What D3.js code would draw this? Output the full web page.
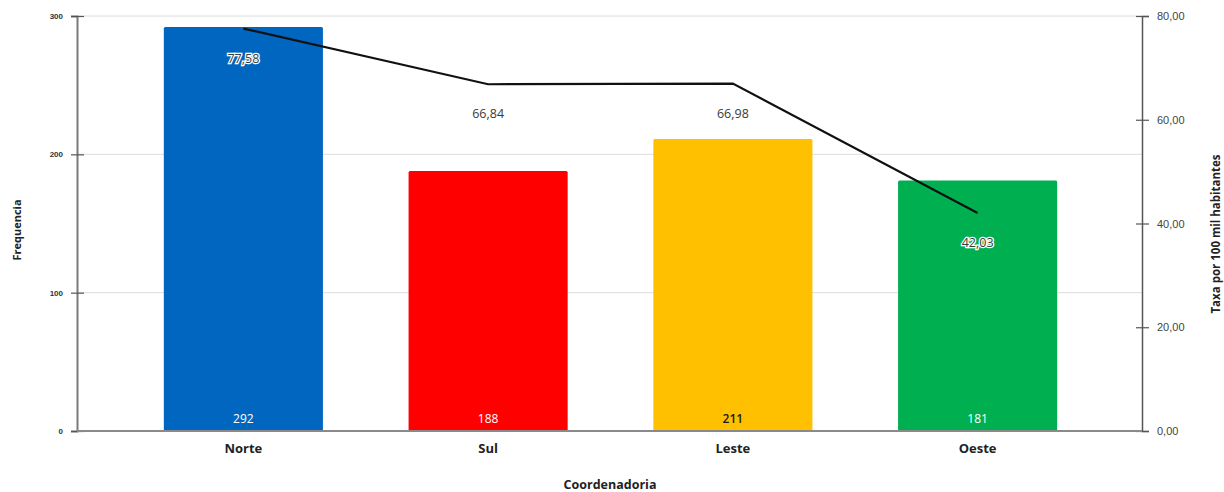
<!DOCTYPE html>
<html>
<head>
<meta charset="utf-8">
<script src="https://cdn.jsdelivr.net/npm/d3@7"></script>
<style>
  html, body { margin: 0; padding: 0; background: #fff; }
  svg { display: block; font-family: "Open Sans", "Noto Sans", sans-serif; }
</style>
</head>
<body>
<svg id="chart" width="1224" height="492"></svg>
<script>
// Cases by coordination area (bars) and rate per 100k inhabitants (line)
const categories = ["Norte", "Sul", "Leste", "Oeste"];
const frequencia = [292, 188, 211, 181];
const taxa = [77.58, 66.84, 66.98, 42.03];
const barColors = ["#0066bf", "#ff0000", "#ffc000", "#00b050"];
const countLabelColors = ["#ffffff", "#ffffff", "#1a1a1a", "#ffffff"];
const leftTicks = [0, 100, 200, 300];
const rightTicks = [0, 20, 40, 60, 80];

const svg = d3.select("#chart");
const plotLeft = 77, plotRight = 1142, plotTop = 16, plotBottom = 431;

const x = d3.scaleBand().domain(categories).range([121, 1100]).paddingInner(0.35).paddingOuter(0.175);
const yL = d3.scaleLinear().domain([0, 300]).range([plotBottom, plotTop]);
const yR = d3.scaleLinear().domain([0, 80]).range([plotBottom, plotTop]);
const fmt = v => d3.format(".2f")(v).replace(".", ",");

// gridlines
svg.append("g").selectAll("line").data(leftTicks.filter(d => d > 0)).join("line")
  .attr("x1", plotLeft).attr("x2", plotRight)
  .attr("y1", d => yL(d)).attr("y2", d => yL(d))
  .attr("stroke", "#dcdcdc").attr("stroke-width", 1);

// bars
svg.append("g").selectAll("rect").data(categories).join("rect")
  .attr("x", d => x(d)).attr("width", x.bandwidth())
  .attr("y", (d, i) => yL(frequencia[i]))
  .attr("height", (d, i) => yL(0) - yL(frequencia[i]))
  .attr("rx", 1.5)
  .attr("fill", (d, i) => barColors[i]);

// count labels at the base of bars
svg.append("g").selectAll("text").data(categories).join("text")
  .attr("x", d => x(d) + x.bandwidth() / 2)
  .attr("y", plotBottom - 8)
  .attr("text-anchor", "middle")
  .attr("font-size", 12)
  .attr("font-weight", (d, i) => countLabelColors[i] === "#ffffff" ? "normal" : "600")
  .attr("fill", (d, i) => countLabelColors[i])
  .text((d, i) => frequencia[i]);

// left axis
const gL = svg.append("g").attr("transform", `translate(${plotLeft},0)`)
  .call(d3.axisLeft(yL).tickValues(leftTicks).tickSize(6).tickPadding(8).tickFormat(d3.format("d")));
gL.select(".domain").attr("stroke", "#7a7a7a").attr("stroke-width", 2);
gL.selectAll(".tick line").attr("stroke", "#555").attr("x2", 7).attr("x1", -6).attr("stroke-width", 1.2);
gL.selectAll(".tick text").attr("font-size", 8).attr("fill", "#333").attr("font-weight", "bold");

// right axis
const gR = svg.append("g").attr("transform", `translate(${plotRight},0)`)
  .call(d3.axisRight(yR).tickValues(rightTicks).tickSize(7).tickPadding(8).tickFormat(fmt));
gR.select(".domain").attr("stroke", "#555").attr("stroke-width", 1.5);
gR.selectAll(".tick line").attr("stroke", "#555").attr("x1", -6).attr("x2", 7).attr("stroke-width", 1.2);
gR.selectAll(".tick text").attr("font-size", 11).attr("fill", "#444");

// baseline
svg.append("line").attr("x1", plotLeft).attr("x2", plotRight).attr("y1", plotBottom).attr("y2", plotBottom)
  .attr("stroke", "#8a8a8a").attr("stroke-width", 2);

// category labels
svg.append("g").selectAll("text").data(categories).join("text")
  .attr("x", d => x(d) + x.bandwidth() / 2)
  .attr("y", 453)
  .attr("text-anchor", "middle")
  .attr("font-size", 13).attr("font-weight", "bold").attr("fill", "#222")
  .text(d => d);

// rate line
const line = d3.line()
  .x((d, i) => x(categories[i]) + x.bandwidth() / 2)
  .y(d => yR(d));
svg.append("path").datum(taxa)
  .attr("d", line).attr("fill", "none")
  .attr("stroke", "#111").attr("stroke-width", 2.2);

// rate labels
svg.append("g").selectAll("text").data(taxa).join("text")
  .attr("x", (d, i) => x(categories[i]) + x.bandwidth() / 2)
  .attr("y", d => yR(d) + 34)
  .attr("text-anchor", "middle")
  .attr("font-size", 12.5)
  .attr("fill", "#3a3a3a")
  .attr("stroke", "#fff").attr("stroke-width", 2.5)
  .attr("paint-order", "stroke")
  .text(d => fmt(d));

// axis titles
svg.append("text")
  .attr("transform", "translate(21,230) rotate(-90)")
  .attr("text-anchor", "middle")
  .attr("font-size", 11).attr("font-weight", "bold").attr("fill", "#222")
  .text("Frequencia");
svg.append("text")
  .attr("transform", "translate(1220,234) rotate(-90)")
  .attr("text-anchor", "middle")
  .attr("font-size", 11.5).attr("font-weight", "bold").attr("fill", "#222")
  .text("Taxa por 100 mil habitantes");
svg.append("text")
  .attr("x", 610).attr("y", 489)
  .attr("text-anchor", "middle")
  .attr("font-size", 12.5).attr("font-weight", "bold").attr("fill", "#222")
  .text("Coordenadoria");
</script>
</body>
</html>
